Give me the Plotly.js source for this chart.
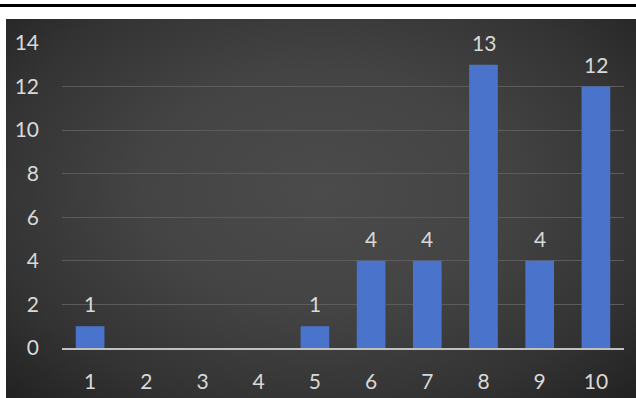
<!DOCTYPE html>
<html>
<head>
<meta charset="utf-8">
<script src="https://cdn.plot.ly/plotly-3.0.1.min.js"></script>
<style>
  html, body { margin: 0; padding: 0; background: #ffffff; width: 636px; height: 398px; overflow: hidden; }
  #rule { position: absolute; left: 0; top: 4px; width: 636px; height: 3px; background: #000000; }
  #chart {
    position: absolute; left: 6px; top: 19px; width: 630px; height: 379px;
    background: radial-gradient(ellipse farthest-corner at 50% 45%, #4b4b4b 0%, #444444 40%, #333333 75%, #222222 100%);
  }
</style>
</head>
<body>
<div id="rule"></div>
<div id="chart"></div>
<script>
// Score distribution: how many responses got each score
const categories = ['1', '2', '3', '4', '5', '6', '7', '8', '9', '10'];
const counts = [1, 0, 0, 0, 1, 4, 4, 13, 4, 12];
const yTicks = [0, 2, 4, 6, 8, 10, 12, 14];

const textColor = '#d9d9d9';
const fontFamily = 'Lato, "Open Sans", sans-serif';

// value labels above each non-empty bar (x given as the category index)
const labels = [];
categories.forEach((c, i) => {
  if (counts[i] > 0) {
    labels.push({
      x: i, y: counts[i], xref: 'x', yref: 'y',
      text: String(counts[i]), showarrow: false,
      yanchor: 'bottom', yshift: 8,
      font: { family: fontFamily, size: 21, color: textColor }
    });
  }
});

const trace = {
  type: 'bar',
  x: categories,
  y: counts,
  marker: { color: '#4a74cc', line: { width: 0 } },
  hoverinfo: 'skip'
};

const layout = {
  width: 630,
  height: 379,
  margin: { l: 56, r: 12, t: 24, b: 50 },
  paper_bgcolor: 'rgba(0,0,0,0)',
  plot_bgcolor: 'rgba(0,0,0,0)',
  bargap: 0.49,
  showlegend: false,
  font: { family: fontFamily, size: 21, color: textColor },
  xaxis: {
    type: 'category',
    range: [-0.5, 9.5],
    showgrid: false,
    showline: true,
    linecolor: '#c0c0c0',
    linewidth: 2,
    ticks: '',
    ticklabelstandoff: 14,
    tickfont: { family: fontFamily, size: 21, color: textColor },
    fixedrange: true
  },
  yaxis: {
    range: [0, 14],
    tickvals: yTicks,
    ticktext: yTicks.map(String),
    showgrid: true,
    gridcolor: '#5c5c5c',
    gridwidth: 1,
    zeroline: false,
    showline: false,
    ticks: '',
    ticklabelstandoff: 22,
    tickfont: { family: fontFamily, size: 21, color: textColor },
    fixedrange: true
  },
  annotations: labels
};

Plotly.newPlot('chart', [trace], layout, { displayModeBar: false, staticPlot: true });
</script>
</body>
</html>
